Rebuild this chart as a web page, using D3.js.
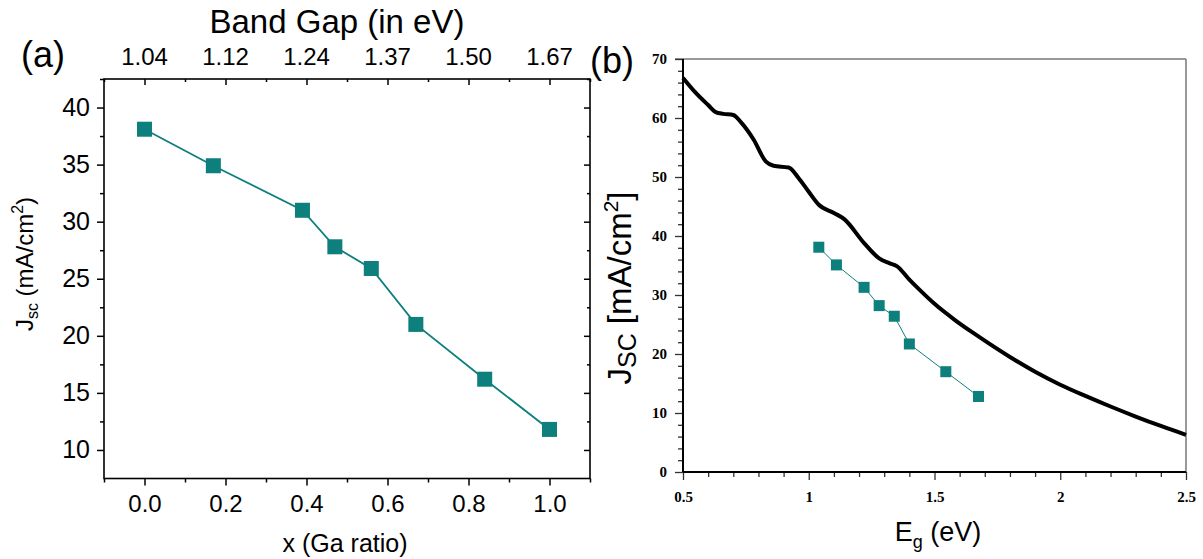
<!DOCTYPE html>
<html><head><meta charset="utf-8">
<script src="https://cdn.jsdelivr.net/npm/d3@7"></script>
<style>body{margin:0;background:#fff}svg{display:block}</style>
</head><body>
<svg id="c" width="1203" height="559"></svg>
<script>
// Panel (a) data
const gaRatio = [0, 0.17, 0.39, 0.47, 0.56, 0.67, 0.84, 1.0];
const jscA = [38.1, 34.9, 31.0, 27.8, 25.9, 21.0, 16.2, 11.8];
const xTicksA = [0, 0.2, 0.4, 0.6, 0.8, 1.0];
const bandGapLabels = ["1.04", "1.12", "1.24", "1.37", "1.50", "1.67"];
const yTicksA = [10, 15, 20, 25, 30, 35, 40];
// Panel (b) data
const egCurve = [0.50,0.55,0.60,0.63,0.66,0.70,0.73,0.78,0.83,0.86,0.92,0.96,1.00,1.04,1.10,1.14,1.22,1.28,1.32,1.35,1.40,1.44,1.50,1.58,1.66,1.80,1.90,2.00,2.10,2.20,2.30,2.40,2.50];
const jscCurve = [66.8,64.3,62.2,61.0,60.7,60.5,59.3,56.4,52.6,51.9,51.6,49.8,47.5,45.3,43.9,42.9,38.8,36.2,35.4,34.9,32.6,30.9,28.5,25.8,23.4,19.5,17.0,14.8,12.9,11.1,9.4,7.8,6.3];
const egPts = [1.04, 1.11, 1.22, 1.28, 1.34, 1.40, 1.545, 1.675];
const jscPts = [38.1, 35.1, 31.3, 28.2, 26.4, 21.7, 17.0, 12.8];
const xTicksB = [0.5, 1, 1.5, 2, 2.5];
const yTicksB = [0, 10, 20, 30, 40, 50, 60, 70];

const teal = "#0d7f7d";
const svg = d3.select("#c");
const sans = "'Liberation Sans', Arial, sans-serif";
const serif = "'Liberation Serif', 'Times New Roman', serif";

// ---------- Panel (a) ----------
const L = 104, R = 590, T = 79, B = 478.5;
const xa = d3.scaleLinear().domain([-0.1, 1.1]).range([L, R]);
const ya = d3.scaleLinear().domain([7.5, 42.5]).range([B, T]);
const ga = svg.append("g");
const minorXA = [-0.1, 0.1, 0.3, 0.5, 0.7, 0.9, 1.1];
const minorYA = [12.5, 17.5, 22.5, 27.5, 32.5, 37.5, 42.5];

function styleAxis(g, fs, font) {
  g.select(".domain").remove();
  g.selectAll("line").attr("stroke", "#000").attr("stroke-width", 1.5);
  g.selectAll("text").attr("font-size", fs).attr("font-family", font).attr("fill", "#000");
}
// bottom
ga.append("g").attr("transform", `translate(0,${B})`)
  .call(d3.axisBottom(xa).tickValues(xTicksA).tickFormat(d3.format(".1f")).tickSize(7).tickPadding(9))
  .call(g => styleAxis(g, 24, sans));
ga.append("g").attr("transform", `translate(0,${B})`)
  .call(d3.axisBottom(xa).tickValues(minorXA).tickFormat("").tickSize(4))
  .call(g => styleAxis(g, 24, sans));
// top (inward ticks, band gap labels)
ga.append("g").attr("transform", `translate(0,${T})`)
  .call(d3.axisBottom(xa).tickValues(xTicksA).tickFormat("").tickSize(6))
  .call(g => styleAxis(g, 24, sans));
ga.append("g").attr("transform", `translate(0,${T})`)
  .call(d3.axisBottom(xa).tickValues(minorXA).tickFormat("").tickSize(3))
  .call(g => styleAxis(g, 24, sans));
ga.append("g").selectAll("text").data(xTicksA).join("text")
  .attr("x", d => xa(d)).attr("y", 64.5).attr("text-anchor", "middle")
  .attr("font-size", 24).attr("font-family", sans).text((d, i) => bandGapLabels[i]);
// left
ga.append("g").attr("transform", `translate(${L},0)`)
  .call(d3.axisLeft(ya).tickValues(yTicksA).tickSize(7).tickPadding(7))
  .call(g => styleAxis(g, 25, sans));
ga.append("g").attr("transform", `translate(${L},0)`)
  .call(d3.axisLeft(ya).tickValues(minorYA).tickFormat("").tickSize(4))
  .call(g => styleAxis(g, 24, sans));
// right (inward)
ga.append("g").attr("transform", `translate(${R},0)`)
  .call(d3.axisRight(ya).tickValues(yTicksA).tickFormat("").tickSize(-6))
  .call(g => styleAxis(g, 24, sans));
ga.append("g").attr("transform", `translate(${R},0)`)
  .call(d3.axisRight(ya).tickValues(minorYA).tickFormat("").tickSize(-3))
  .call(g => styleAxis(g, 24, sans));
ga.append("rect").attr("x", L).attr("y", T).attr("width", R - L).attr("height", B - T)
  .attr("fill", "none").attr("stroke", "#000").attr("stroke-width", 1.6);

const dataA = gaRatio.map((x, i) => [x, jscA[i]]);
ga.append("path").datum(dataA).attr("fill", "none").attr("stroke", teal).attr("stroke-width", 1.8)
  .attr("d", d3.line().x(d => xa(d[0])).y(d => ya(d[1])));
ga.selectAll("rect.m").data(dataA).join("rect").attr("class", "m")
  .attr("x", d => xa(d[0]) - 7.5).attr("y", d => ya(d[1]) - 7.5)
  .attr("width", 15).attr("height", 15).attr("fill", teal);

ga.append("text").attr("x", 345).attr("y", 552).attr("text-anchor", "middle")
  .attr("font-size", 25).attr("font-family", sans).text("x (Ga ratio)");
ga.append("text").attr("x", 337).attr("y", 33).attr("text-anchor", "middle")
  .attr("font-size", 33).attr("font-family", sans).text("Band Gap (in eV)");
ga.append("text").attr("x", 21).attr("y", 67).attr("font-size", 36).attr("font-family", sans).text("(a)");
const ylabA = ga.append("text").attr("transform", "translate(33,264) rotate(-90)")
  .attr("text-anchor", "middle").attr("font-size", 24).attr("font-family", sans);
ylabA.append("tspan").text("J");
ylabA.append("tspan").attr("font-size", 16).attr("dy", 5).text("sc");
ylabA.append("tspan").attr("dy", -5).text(" (mA/cm");
ylabA.append("tspan").attr("font-size", 16).attr("dy", -10).text("2");
ylabA.append("tspan").attr("dy", 10).text(")");

// ---------- Panel (b) ----------
const xb = d3.scaleLinear().domain([0.5, 2.5]).range([683, 1186]);
const yb = d3.scaleLinear().domain([0, 70]).range([472, 59]);
const gb = svg.append("g");
gb.append("line").attr("x1", 675).attr("x2", 1186).attr("y1", 59).attr("y2", 59).attr("stroke", "#777").attr("stroke-width", 1.5);
gb.append("line").attr("x1", 1186).attr("x2", 1186).attr("y1", 59).attr("y2", 472).attr("stroke", "#777").attr("stroke-width", 1.5);
function styleB(g) {
  g.select(".domain").remove();
  g.selectAll("line").attr("stroke", "#333").attr("stroke-width", 1.3);
  g.selectAll("text").attr("font-size", 15).attr("font-family", serif).attr("font-weight", "bold").attr("fill", "#000");
}
gb.append("g").attr("transform", "translate(0,472)")
  .call(d3.axisBottom(xb).tickValues(xTicksB).tickFormat(d => d3.format("")(d)).tickSize(8).tickPadding(11))
  .call(styleB);
gb.append("g").attr("transform", "translate(0,472)")
  .call(d3.axisBottom(xb).tickValues(d3.range(0.6, 2.5, 0.1).filter(v => Math.abs(v * 2 - Math.round(v * 2)) > 0.01)).tickFormat("").tickSize(5))
  .call(styleB);
gb.append("g").attr("transform", "translate(683,0)")
  .call(d3.axisLeft(yb).tickValues(yTicksB).tickSize(8).tickPadding(8))
  .call(styleB);
gb.append("g").attr("transform", "translate(683,0)")
  .call(d3.axisLeft(yb).tickValues(d3.range(2, 70, 2).filter(v => v % 10 !== 0)).tickFormat("").tickSize(5))
  .call(styleB);
gb.append("line").attr("x1", 683).attr("x2", 683).attr("y1", 59).attr("y2", 472).attr("stroke", "#000").attr("stroke-width", 2);
gb.append("line").attr("x1", 683).attr("x2", 1186).attr("y1", 472).attr("y2", 472).attr("stroke", "#000").attr("stroke-width", 2);

const curve = egCurve.map((x, i) => [x, jscCurve[i]]);
gb.append("path").datum(curve).attr("fill", "none").attr("stroke", "#000").attr("stroke-width", 4)
  .attr("stroke-linejoin", "round")
  .attr("d", d3.line().curve(d3.curveMonotoneX).x(d => xb(d[0])).y(d => yb(d[1])));

const dataB = egPts.map((x, i) => [x, jscPts[i]]);
gb.append("path").datum(dataB).attr("fill", "none").attr("stroke", teal).attr("stroke-width", 1)
  .attr("d", d3.line().x(d => xb(d[0])).y(d => yb(d[1])));
gb.selectAll("rect.m").data(dataB).join("rect").attr("class", "m")
  .attr("x", d => xb(d[0]) - 5.5).attr("y", d => yb(d[1]) - 5.5)
  .attr("width", 11).attr("height", 11).attr("fill", teal);

gb.append("text").attr("x", 590).attr("y", 73).attr("font-size", 36).attr("font-family", sans).text("(b)");
const xlabB = gb.append("text").attr("x", 938).attr("y", 541).attr("text-anchor", "middle")
  .attr("font-size", 27).attr("font-family", sans);
xlabB.append("tspan").text("E");
xlabB.append("tspan").attr("font-size", 18).attr("dy", 7).text("g");
xlabB.append("tspan").attr("dy", -7).text(" (eV)");
const ylabB = gb.append("text").attr("transform", "translate(631,288) rotate(-90)")
  .attr("text-anchor", "middle").attr("font-size", 33).attr("font-family", sans);
ylabB.append("tspan").text("J");
ylabB.append("tspan").attr("font-size", 25).attr("dy", 5).text("SC");
ylabB.append("tspan").attr("dy", -5).text(" [mA/cm");
ylabB.append("tspan").attr("font-size", 21).attr("dy", -13).text("2");
ylabB.append("tspan").attr("dy", 13).text("]");
</script>
</body></html>
